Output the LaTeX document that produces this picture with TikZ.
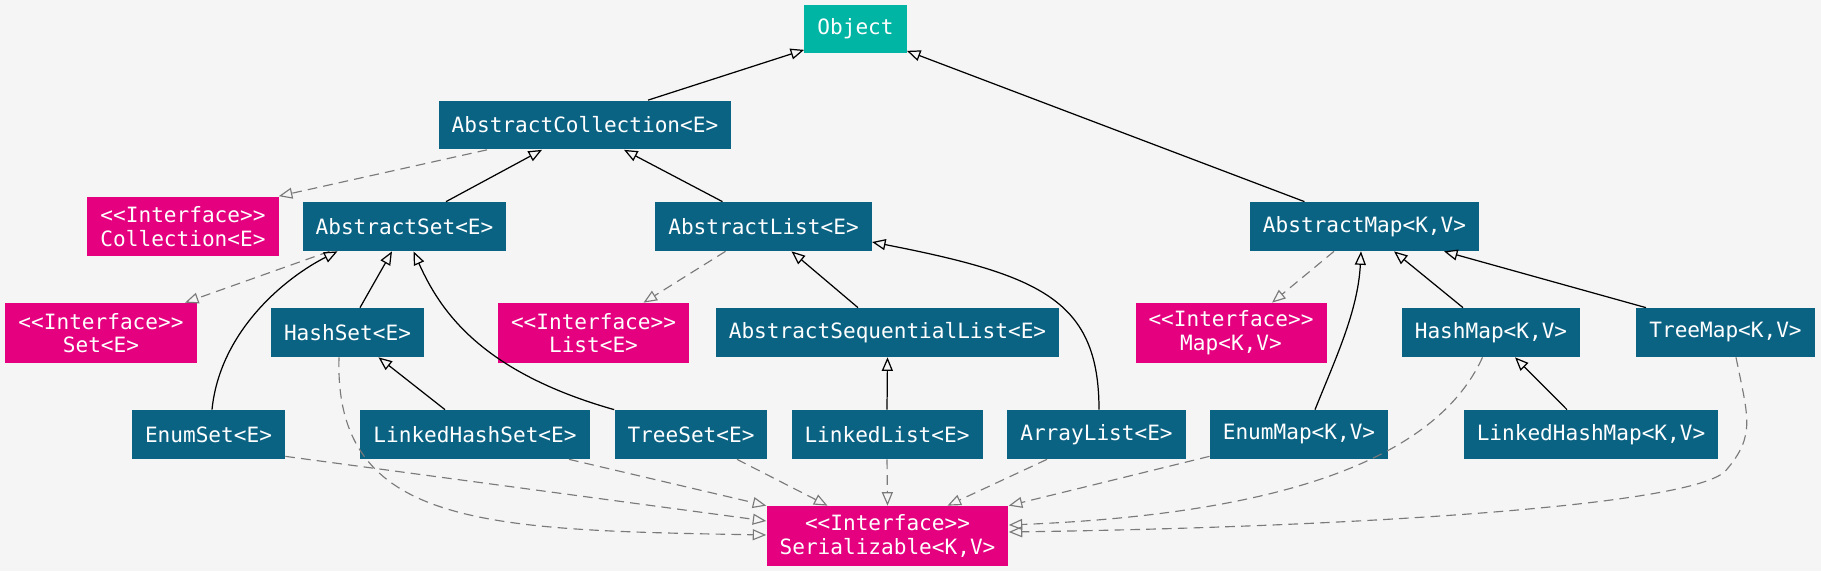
\documentclass[tikz,border=0pt]{standalone}
\usepackage{fontspec}
\usetikzlibrary{arrows.meta,calc}
\newfontfamily\boxfont{DejaVu Sans Mono}
\definecolor{canvas}{HTML}{F5F5F5}
\definecolor{root}{HTML}{00B5A4}
\definecolor{klass}{HTML}{0B6384}
\definecolor{iface}{HTML}{E4007F}
\definecolor{realize}{HTML}{7A7A7A}

\begin{document}
\begin{tikzpicture}[x=0.02cm, y=-0.02cm,
  box/.style={text=white, inner xsep=0.26cm, inner ysep=0pt, minimum height=0.98cm,
              font=\boxfont\fontsize{12}{13.5}\selectfont, align=center},
  cls/.style={box, fill=klass},
  ifc/.style={box, fill=iface, minimum height=1.2cm},
  ext/.style={-{Triangle[open, length=0.27cm, width=0.22cm]}, line width=0.7pt},
  impl/.style={-{Triangle[open, length=0.27cm, width=0.22cm]}, realize, line width=0.65pt,
               dash pattern=on 5.5pt off 3.5pt}]
  \useasboundingbox[fill=canvas] (0,0) rectangle (1821,571);
  \node[box, fill=root] (obj) at (855.5,29) {Object};
  \node[cls] (ac) at (585,125) {AbstractCollection<E>};
  \node[ifc] (coll) at (183,226.5) {<<Interface>>\\Collection<E>};
  \node[cls] (as) at (404.5,226.5) {AbstractSet<E>};
  \node[cls] (al) at (763.5,226.5) {AbstractList<E>};
  \node[cls] (am) at (1364.5,226.5) {AbstractMap<K,V>};
  \node[ifc] (set) at (101,333) {<<Interface>>\\Set<E>};
  \node[cls] (hs) at (347.5,332.5) {HashSet<E>};
  \node[ifc] (list) at (593.5,333) {<<Interface>>\\List<E>};
  \node[cls] (asl) at (887.5,332.5) {AbstractSequentialList<E>};
  \node[ifc] (map) at (1231,333) {<<Interface>>\\Map<K,V>};
  \node[cls] (hm) at (1491,332.5) {HashMap<K,V>};
  \node[cls] (tm) at (1725.5,332.5) {TreeMap<K,V>};
  \node[cls] (es) at (208.5,434.5) {EnumSet<E>};
  \node[cls] (lhs) at (475,434.5) {LinkedHashSet<E>};
  \node[cls] (ts) at (691,434.5) {TreeSet<E>};
  \node[cls] (ll) at (887,434.5) {LinkedList<E>};
  \node[cls] (arr) at (1096.5,434.5) {ArrayList<E>};
  \node[cls] (em) at (1299,434.5) {EnumMap<K,V>};
  \node[cls] (lhm) at (1591,434.5) {LinkedHashMap<K,V>};
  \node[ifc] (ser) at (887.5,536) {<<Interface>>\\Serializable<K,V>};

  \draw[ext] ($(ac.north)+(63,0)$) -- ($(obj.south west)+(0,-4)$);
  \draw[ext] ($(am.north)+(-60,0)$) -- ($(obj.south east)+(0,-3)$);
  \draw[impl] ($(ac.south)+(-98,0)$) -- (coll.north east);
  \draw[ext] ($(as.north)+(41.5,0)$) -- ($(ac.south)+(-43,0)$);
  \draw[ext] ($(al.north)+(-41,0)$) -- ($(ac.south)+(39,0)$);
  \draw[impl] ($(as.south)+(-75,0)$) -- ($(set.north)+(84,0)$);
  \draw[ext] ($(es.north)+(3.5,0)$) .. controls +(8,-80) and +(-50,25) .. ($(as.south)+(-67,0)$);
  \draw[ext] ($(hs.north)+(12.5,0)$) -- ($(as.south)+(-12.5,0)$);
  \draw[ext] (ts.north west) .. controls +(-134,-38) and +(26.5,59) .. ($(as.south)+(9,0)$);
  \draw[ext] ($(lhs.north)+(-30,0)$) -- ($(hs.south)+(31,0)$);
  \draw[impl] ($(hs.south)+(-8.5,0)$) .. controls +(-5,170) and +(-280,-5) .. ($(ser.west)+(0,-1)$);
  \draw[impl] ($(al.south)+(-38,0)$) -- ($(list.north)+(50,0)$);
  \draw[ext] ($(asl.north)+(-29.5,0)$) -- ($(al.south)+(28,0)$);
  \draw[ext] ($(arr.north)+(2.5,0)$) .. controls +(0,-110) and +(168,33) .. ($(al.east)+(0,15.5)$);
  \draw[ext] (ll.north) -- (asl.south);
  \draw[impl] (ll.south) -- (ser.north);
  \draw[impl] ($(es.south east)+(0,-3)$) -- ($(ser.west)+(0,-15)$);
  \draw[impl] ($(lhs.south)+(94,0)$) -- (ser.north west);
  \draw[impl] ($(ts.south)+(46,0)$) -- ($(ser.north)+(-60,0)$);
  \draw[impl] ($(arr.south)+(-49.5,0)$) -- ($(ser.north)+(60,0)$);
  \draw[impl] ($(em.south west)+(0,-3)$) -- (ser.north east);
  \draw[impl] ($(hm.south)+(-8.5,0)$) .. controls +(-50,110) and +(250,-10) .. ($(ser.east)+(0,-11)$);
  \draw[impl] ($(tm.south)+(10.5,0)$) .. controls +(12,60) and +(30,-35) .. ++(-10,113)
    .. controls +(-30,35) and +(350,-5) .. ($(ser.east)+(0,-4)$);
  \draw[impl] ($(am.south)+(-30.5,0)$) -- ($(map.north)+(41,0)$);
  \draw[ext] ($(em.north)+(16,0)$) .. controls +(20,-50) and +(-3,60) .. ($(am.south)+(-3.5,0)$);
  \draw[ext] ($(hm.north)+(-28,0)$) -- ($(am.south)+(29.5,0)$);
  \draw[ext] ($(tm.north)+(-79.5,0)$) -- ($(am.south)+(79.5,0)$);
  \draw[ext] ($(lhm.north)+(-24,0)$) -- ($(hm.south)+(24,0)$);
\end{tikzpicture}
\end{document}
